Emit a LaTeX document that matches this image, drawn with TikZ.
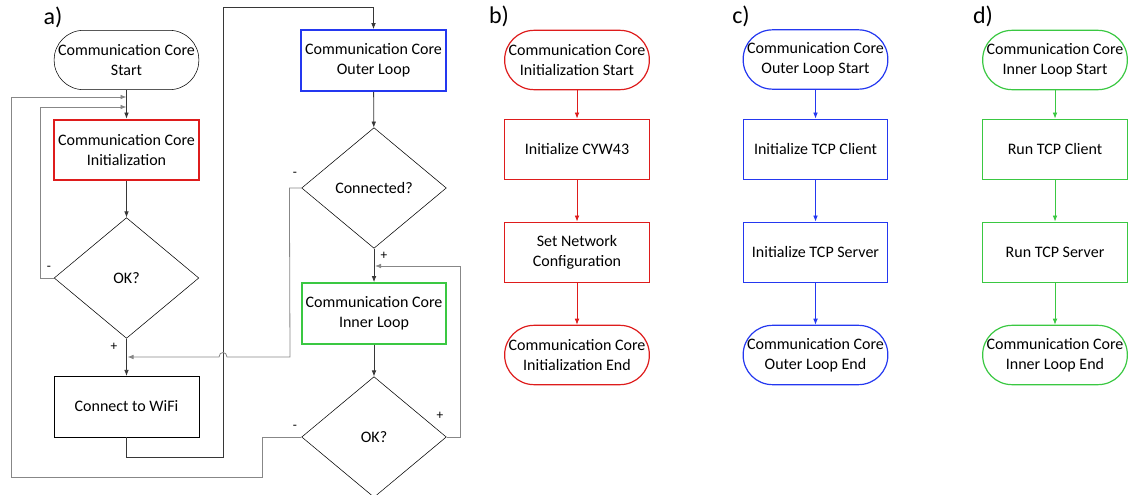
\documentclass[tikz,border=0pt]{standalone}
\usepackage{fontspec}
\setmainfont{Carlito}
\usetikzlibrary{arrows.meta,shapes.geometric}
\definecolor{corered}{RGB}{222,28,28}
\definecolor{coreblue}{RGB}{36,56,240}
\definecolor{coregreen}{RGB}{58,200,66}
\definecolor{loopgray}{RGB}{135,135,135}
\definecolor{flowgray}{RGB}{55,55,55}
\begin{document}
\begin{tikzpicture}[x=0.75pt,y=-0.75pt,
	every node/.style={font=\fontsize{12}{15}\selectfont,align=center,inner sep=0pt},
	term/.style={draw,rounded corners=22pt,minimum width=108.5pt,minimum height=44.5pt},
	proc/.style={draw,minimum width=108.5pt,minimum height=45.5pt},
	dec/.style={draw,diamond,minimum width=108.5pt,minimum height=90.5pt},
	thin/.style={line width=0.9pt},
	thick/.style={line width=1.6pt},
	flow/.style={draw=flowgray,line width=0.6pt,-{Latex[length=4.5pt,width=3.5pt]}},
	back/.style={draw=loopgray,line width=0.6pt,-{Latex[length=4.5pt,width=3.5pt]}},
	sign/.style={font=\fontsize{10}{12}\selectfont},
	panel/.style={font=\fontsize{18}{20}\selectfont}]
\useasboundingbox (0,0) rectangle (1137,495);

% a) communication core
\node[panel] (la) at (53,17) {a)};
\node[term] (start) at (126.5,60) {Communication Core\\Start};
\node[proc,draw=corered,thick] (init) at (126.5,150) {Communication Core\\Initialization};
\node[dec] (okinit) at (126.5,278) {OK?};
\node[proc] (wifi) at (126.5,406.5) {Connect to WiFi};
\node[proc,draw=coreblue,thick] (outer) at (373.5,60.5) {Communication Core\\Outer Loop};
\node[dec] (conn) at (374,188) {Connected?};
\node[proc,draw=coregreen,thick] (inner) at (374,313.5) {Communication Core\\Inner Loop};
\node[dec] (okinner) at (374,437) {OK?};

\coordinate (jin) at (126.5,107);
\coordinate (jout) at (126.5,97);
\coordinate (jplus) at (127.5,357);
\coordinate (jinner) at (375,266);

\draw[flow] (start) -- (init);
\draw[flow] (init) -- (okinit);
\draw[flow] (okinit) -- (wifi);
\draw[back] (okinit.west) -- ++(-14,0) |- (jin);
\draw[back] (okinner.west) -- ++(-39,0) -- ++(0,40) -- (11,477) |- (jout);
\draw[flow] (wifi.south) -- ++(0,20) -| (223,7) -| (outer.north);
\draw[flow] (outer) -- (conn);
\draw[back] (conn.west) -- ++(-12,0) -- (290,357) -- (227,357)
	.. controls (227,351) and (219,351) .. (219,357) -- (jplus);
\draw[flow] (conn) -- (inner);
\draw[flow] (inner) -- (okinner);
\draw[back] (okinner.east) -- ++(14,0) |- (jinner);

\node[sign] (sinit) at (49,268) {-};
\node[sign] (pinit) at (114,347) {+};
\node[sign] (sconn) at (295,174) {-};
\node[sign] (pconn) at (384,256) {+};
\node[sign] (sinner) at (295,427) {-};
\node[sign] (pinner) at (440,416) {+};

% b) initialization
\node[panel] (lb) at (499,16) {b)};
\node[term,draw=corered,thin] (bstart) at (577,60) {Communication Core\\Initialization Start};
\node[proc,draw=corered,thin] (bcyw) at (577,149.5) {Initialize CYW43};
\node[proc,draw=corered,thin] (bnet) at (577,252.5) {Set Network\\Configuration};
\node[term,draw=corered,thin] (bend) at (577,355) {Communication Core\\Initialization End};
\draw[flow,draw=corered] (bstart) -- (bcyw);
\draw[flow,draw=corered] (bcyw) -- (bnet);
\draw[flow,draw=corered] (bnet) -- (bend);

% c) outer loop
\node[panel] (lc) at (741,16) {c)};
\node[term,draw=coreblue,thin] (cstart) at (815.5,59.5) {Communication Core\\Outer Loop Start};
\node[proc,draw=coreblue,thin] (cclient) at (815.5,149.5) {Initialize TCP Client};
\node[proc,draw=coreblue,thin] (cserver) at (815.5,252.5) {Initialize TCP Server};
\node[term,draw=coreblue,thin] (cend) at (815.5,355) {Communication Core\\Outer Loop End};
\draw[flow,draw=coreblue] (cstart) -- (cclient);
\draw[flow,draw=coreblue] (cclient) -- (cserver);
\draw[flow,draw=coreblue] (cserver) -- (cend);

% d) inner loop
\node[panel] (ld) at (983,16) {d)};
\node[term,draw=coregreen,thin] (dstart) at (1055,60) {Communication Core\\Inner Loop Start};
\node[proc,draw=coregreen,thin] (dclient) at (1055,149.5) {Run TCP Client};
\node[proc,draw=coregreen,thin] (dserver) at (1055,252.5) {Run TCP Server};
\node[term,draw=coregreen,thin] (dend) at (1055,355) {Communication Core\\Inner Loop End};
\draw[flow,draw=coregreen] (dstart) -- (dclient);
\draw[flow,draw=coregreen] (dclient) -- (dserver);
\draw[flow,draw=coregreen] (dserver) -- (dend);
\end{tikzpicture}
\end{document}
